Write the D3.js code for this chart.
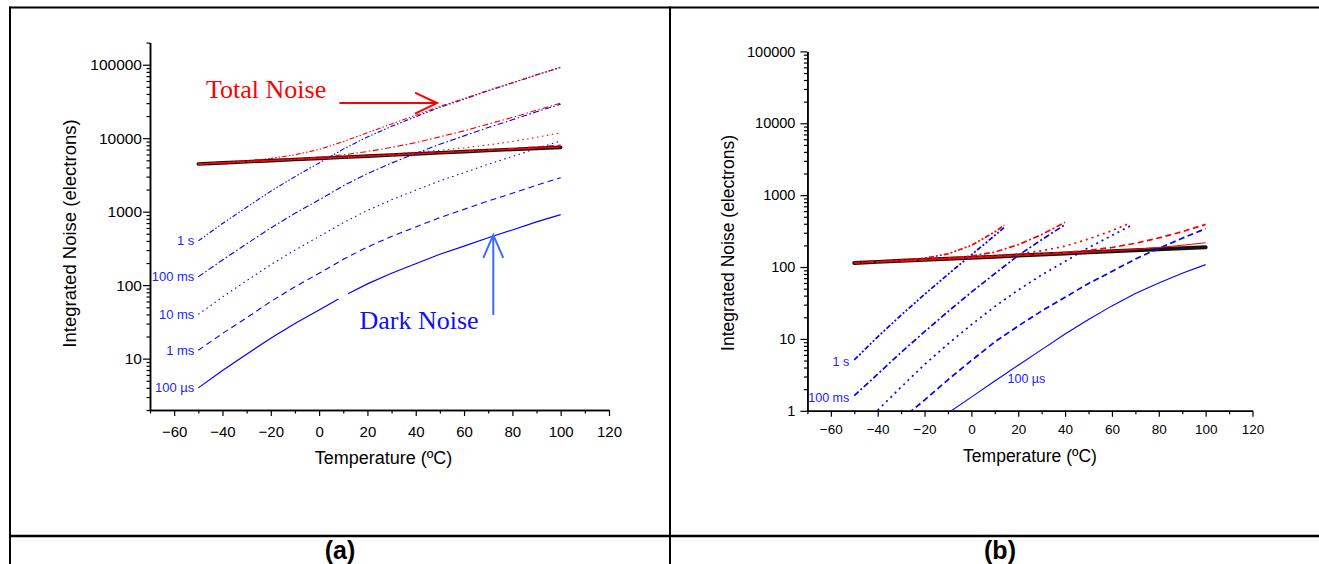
<!DOCTYPE html>
<html><head><meta charset="utf-8">
<script src="https://cdn.jsdelivr.net/npm/d3@7"></script>
<style>body{margin:0;background:#fff} svg{display:block}</style>
</head><body><svg id="c" width="1319" height="564"></svg>
<script>
// ---------------- DATA ----------------
const xMajor = [-60, -40, -20, 0, 20, 40, 60, 80, 100, 120];
const xMinor = [-70, -50, -30, -10, 10, 30, 50, 70, 90, 110];
const yMajorA = [10, 100, 1000, 10000, 100000];
const yMajorB = [1, 10, 100, 1000, 10000, 100000];
const seriesNames = ["1 s", "100 ms", "10 ms", "1 ms", "100 µs"];

// Panel (a): temperature grid (ºC)
const tempsA = [-50, -40, -30, -20, -10, 0, 10, 20, 30, 40, 50, 60, 70, 80, 90, 100];
const aRead = [4450, 4610, 4780, 4950, 5130, 5310, 5500, 5700, 5900, 6110, 6330, 6560, 6790, 7030, 7280, 7500];
const aDark1s   = [400, 690, 1150, 1900, 3000, 4600, 7100, 10400, 14500, 19600, 26300, 34000, 44200, 56400, 72500, 92000];
const aDark100ms = [130, 220, 365, 600, 950, 1450, 2250, 3300, 4600, 6200, 8300, 10750, 14000, 17800, 22900, 29000];
const aDark10ms = [40, 69, 115, 190, 300, 460, 710, 1040, 1450, 1960, 2630, 3400, 4420, 5640, 7250, 9200];
const aDark1ms  = [13, 22, 36, 60, 95, 145, 225, 330, 460, 620, 830, 1075, 1400, 1780, 2290, 2900];
// 100 µs dark curve has a small break near 10 ºC
const tempsA100us = [-50, -40, -30, -20, -10, 0, 8, 10, 12, 20, 30, 40, 50, 60, 70, 80, 90, 100];
const aDark100us = [4.0, 6.9, 11.5, 19, 30, 46, 65, null, 76.5, 104, 145, 196, 263, 340, 442, 564, 725, 912];
const aTot1s    = [4468, 4661, 4916, 5302, 5943, 7026, 8981, 11860, 15654, 20530, 27051, 34627, 44718, 56836, 72864, 92305];
const aTot100ms = [4452, 4615, 4794, 4986, 5217, 5505, 5942, 6586, 7481, 8705, 10438, 12593, 15560, 19138, 24030, 29954];
const aTot10ms  = [4450, 4611, 4781, 4954, 5139, 5330, 5546, 5794, 6075, 6416, 6855, 7389, 8102, 9013, 10274, 11870];
const aTot1ms   = [4450, 4610, 4780, 4950, 5131, 5312, 5505, 5710, 5918, 6141, 6384, 6647, 6933, 7252, 7632, 8041];
const aTot100us = [4450, 4610, 4780, 4950, 5130, 5310, 5500, 5701, 5902, 6113, 6335, 6569, 6804, 7053, 7316, 7555];

// Panel (b)
const tempsB = [-50, -40, -30, -20, -10, 0, 10, 20, 30, 40, 50, 60, 70, 80, 90, 100];
const bRead = [114, 118, 122, 126, 130.5, 135, 139.5, 144.5, 149.5, 154.5, 160, 165.5, 171, 177, 183, 189];
const bT1s = [-50, -40, -30, -20, -10, 0, 10, 14];
const bDark1s = [5.1, 10.7, 21.4, 41.7, 79, 148, 275, 355];
const bTot1s = [114.1, 118.5, 123.9, 132.7, 152.5, 200.3, 308.4, 382.2];
const bT100ms = [-50, -40, -30, -20, -10, 0, 10, 20, 30, 40];
const bDark100ms = [1.62, 3.24, 6.5, 12.6, 24, 44.7, 81, 145, 240, 389];
const bTot100ms = [114, 118, 122.2, 126.6, 132.7, 142.2, 161.3, 204.7, 282.8, 418.6];
const bT10ms = [-40, -30, -20, -10, 0, 10, 20, 30, 40, 50, 60, 68];
const bDark10ms = [1.02, 2.14, 4.4, 8.5, 15.8, 28.2, 47.9, 77.6, 120, 186, 275, 376];
const bTot10ms = [118, 122, 126.1, 130.8, 135.9, 142.3, 152.2, 168.4, 195.6, 245.3, 321, 412.6];
const bT1ms = [-30, -20, -10, 0, 10, 20, 30, 40, 50, 60, 70, 80, 90, 100];
const bDark1ms = [0.76, 1.41, 2.7, 5.0, 9.1, 15.1, 24.5, 38, 59, 87, 129, 182, 251, 343];
const bTot1ms = [122, 126, 130.5, 135.1, 139.8, 145.3, 151.5, 159.1, 170.5, 187, 214.2, 253.9, 310.6, 391.6];
const bT100us = [-10, 0, 10, 20, 30, 40, 50, 60, 70, 80, 90, 100];
const bDark100us = [0.93, 1.55, 2.6, 4.3, 7.1, 11.7, 18.6, 28.8, 42.7, 60, 82, 108];
const bTot100us = [130.5, 135, 139.5, 144.6, 149.7, 154.9, 161.1, 168, 176.3, 186.9, 200.5, 217.7];

// ---------------- STYLE / LAYOUT ----------------
const BLUE = "#0000ff", RED = "#ff0000", LBLUE = "#2222ff";
const SANS = "'Liberation Sans', Arial, sans-serif";
const SERIF = "'Liberation Serif', 'Times New Roman', serif";
const dashA = ["5,2,1.5,2,1.5,2", "6,2.5,1.5,2.5", "1.5,3.5", "6,4", null];
const dashB = ["5,2,2,2,2,2", "6,2.5,2,2.5", "2,4", "6,3.5", null];

const svg = d3.select("#c");
const zip = (t, v) => t.map((d, i) => [d, v[i]]);

// frame
const frame = svg.append("g").attr("stroke", "#000").attr("fill", "none");
frame.append("line").attr("x1", 9).attr("x2", 1319).attr("y1", 7.5).attr("y2", 7.5).attr("stroke-width", 2);
frame.append("line").attr("x1", 10).attr("x2", 10).attr("y1", 6.5).attr("y2", 564).attr("stroke-width", 2);
frame.append("line").attr("x1", 670).attr("x2", 670).attr("y1", 6.5).attr("y2", 564).attr("stroke-width", 2);
frame.append("line").attr("x1", 9).attr("x2", 1319).attr("y1", 536).attr("y2", 536).attr("stroke-width", 2.5);

svg.append("text").attr("x", 340).attr("y", 559).attr("text-anchor", "middle")
  .attr("font-family", SANS).attr("font-weight", "bold").attr("font-size", 25).text("(a)");
svg.append("text").attr("x", 1000).attr("y", 559).attr("text-anchor", "middle")
  .attr("font-family", SANS).attr("font-weight", "bold").attr("font-size", 25).text("(b)");

function panel(cfg) {
  const { x, y, id, yMajor, tickFont, ylab, xlab } = cfg;
  const g = svg.append("g");
  const [x0, x1] = x.range();
  const [yb, yt] = y.range();
  g.append("clipPath").attr("id", id).append("rect")
    .attr("x", x0).attr("y", yt).attr("width", x1 - x0).attr("height", yb - yt);

  // x axis
  const gx = g.append("g").attr("transform", `translate(0,${yb})`);
  gx.call(d3.axisBottom(x).tickValues(xMinor).tickSize(3.5).tickSizeOuter(0).tickFormat(""));
  const gx2 = g.append("g").attr("transform", `translate(0,${yb})`);
  gx2.call(d3.axisBottom(x).tickValues(xMajor).tickSize(6).tickSizeOuter(0));
  gx2.selectAll("text").attr("y", cfg.xTickBase).attr("dy", null)
    .attr("font-family", SANS).attr("font-size", tickFont.x).attr("fill", "#000");
  // y axis
  const minor = y.ticks().filter(v => !yMajor.includes(v));
  const gy = g.append("g").attr("transform", `translate(${x0},0)`);
  gy.call(d3.axisLeft(y).tickValues(minor).tickSize(3.5).tickSizeOuter(0).tickFormat(""));
  const gy2 = g.append("g").attr("transform", `translate(${x0},0)`);
  gy2.call(d3.axisLeft(y).tickValues(yMajor).tickSize(7).tickSizeOuter(0).tickFormat(d3.format("d")).tickPadding(cfg.yPad));
  gy2.selectAll("text").attr("font-family", SANS).attr("font-size", tickFont.y).attr("fill", "#000");
  g.selectAll(".domain").attr("stroke-width", 1.5);
  g.selectAll(".tick line").attr("stroke-width", 1.2);

  // titles
  g.append("text").attr("transform", `translate(${ylab[0]},${ylab[1]}) rotate(-90)`)
    .attr("text-anchor", "middle").attr("font-family", SANS).attr("font-size", ylab[2])
    .text("Integrated Noise (electrons)");
  g.append("text").attr("x", xlab[0]).attr("y", xlab[1]).attr("text-anchor", "middle")
    .attr("font-family", SANS).attr("font-size", xlab[2]).text("Temperature (ºC)");

  const plot = g.append("g").attr("clip-path", `url(#${id})`);
  const ln = d3.line().defined(d => d[1] != null).x(d => x(d[0])).y(d => y(d[1]));
  // read noise (thick black)
  plot.append("path").datum(cfg.read).attr("d", ln).attr("fill", "none")
    .attr("stroke", "#000").attr("stroke-width", cfg.readW).attr("stroke-linecap", "round").attr("opacity", 0.92);
  cfg.series.forEach((s, i) => {
    plot.append("path").datum(s.dark).attr("d", ln).attr("fill", "none")
      .attr("stroke", BLUE).attr("stroke-width", s.w).attr("stroke-dasharray", s.dash);
  });
  cfg.series.forEach((s, i) => {
    plot.append("path").datum(s.total).attr("d", ln).attr("fill", "none")
      .attr("stroke", RED).attr("stroke-width", s.w).attr("stroke-dasharray", s.dash);
  });
  return g;
}

// ---------------- PANEL A ----------------
const xA = d3.scaleLinear([-70, 120], [150, 609]);
const yA = d3.scaleLog([2, 200000], [410, 42.6]);
const tA = [tempsA, tempsA, tempsA, tempsA, tempsA100us];
const darkA = [aDark1s, aDark100ms, aDark10ms, aDark1ms, aDark100us];
const totA = [aTot1s, aTot100ms, aTot10ms, aTot1ms, aTot100us];
const gA = panel({
  x: xA, y: yA, id: "clipA", yMajor: yMajorA, tickFont: { x: 15, y: 15.5 }, xTickBase: 26.7, yPad: 1,
  ylab: [75.5, 233.5, 18.5], xlab: [383.5, 464, 18],
  read: zip(tempsA, aRead), readW: 3.6,
  series: seriesNames.map((n, i) => ({ dark: zip(tA[i], darkA[i]), total: zip(tempsA, totA[i]), dash: dashA[i], w: i === 4 ? 1.2 : 1.1 }))
});
// series labels
seriesNames.forEach((n, i) => {
  gA.append("text").attr("x", xA(tA[i][0]) - 4).attr("y", yA(darkA[i][0])).attr("dy", "0.33em")
    .attr("text-anchor", "end").attr("font-family", SANS).attr("font-size", 13).attr("fill", LBLUE).text(n);
});
// annotations (data coordinates)
const totalNoteA = { T: -46.8, v: 34900, arrowFrom: 8.4, arrowTo: 48.8, arrowV: 30100 };
const darkNoteA = { T: 16.7, v: 25.1, arrowT: 72.1, arrowFromV: 39.3, arrowToV: 482 };
gA.append("text").attr("x", xA(totalNoteA.T)).attr("y", yA(totalNoteA.v))
  .attr("font-family", SERIF).attr("font-size", 26).attr("fill", RED).text("Total Noise");
{
  const ax0 = xA(totalNoteA.arrowFrom), ax1 = xA(totalNoteA.arrowTo), ay = yA(totalNoteA.arrowV);
  gA.append("path").attr("d", `M${ax0},${ay}H${ax1}M${ax1 - 22},${ay - 10.5}L${ax1},${ay}L${ax1 - 22},${ay + 10.5}`)
    .attr("fill", "none").attr("stroke", RED).attr("stroke-width", 2);
}
gA.append("text").attr("x", xA(darkNoteA.T)).attr("y", yA(darkNoteA.v))
  .attr("font-family", SERIF).attr("font-size", 26).attr("fill", "#1010f0").text("Dark Noise");
{
  const ax = xA(darkNoteA.arrowT), ay0 = yA(darkNoteA.arrowFromV), ay1 = yA(darkNoteA.arrowToV);
  gA.append("path").attr("d", `M${ax},${ay0}V${ay1}M${ax - 10},${ay1 + 23}L${ax},${ay1}L${ax + 10},${ay1 + 23}`)
    .attr("fill", "none").attr("stroke", "#3a6cff").attr("stroke-width", 2);
}

// ---------------- PANEL B ----------------
const xB = d3.scaleLinear([-70, 120], [807.4, 1252.5]);
const yB = d3.scaleLog([1, 100000], [410.8, 51.4]);
const tB = [bT1s, bT100ms, bT10ms, bT1ms, bT100us];
const darkB = [bDark1s, bDark100ms, bDark10ms, bDark1ms, bDark100us];
const totB = [bTot1s, bTot100ms, bTot10ms, bTot1ms, bTot100us];
const gB = panel({
  x: xB, y: yB, id: "clipB", yMajor: yMajorB, tickFont: { x: 13.5, y: 14.5 }, xTickBase: 23.5, yPad: 5,
  ylab: [734, 243, 17.5], xlab: [1030, 462, 17.5],
  read: zip(tempsB, bRead), readW: 4,
  series: seriesNames.map((n, i) => ({ dark: zip(tB[i], darkB[i]), total: zip(tB[i], totB[i]), dash: dashB[i], w: i === 4 ? 1.1 : 1.7 }))
});
[0, 1].forEach(i => {
  gB.append("text").attr("x", xB(tB[i][0]) - 5).attr("y", yB(darkB[i][0]) + 2).attr("dy", "0.33em")
    .attr("text-anchor", "end").attr("font-family", SANS).attr("font-size", 12.5).attr("fill", LBLUE).text(seriesNames[i]);
});
const label100usB = { T: 23.5, v: 2.8 };
gB.append("text").attr("x", xB(label100usB.T)).attr("y", yB(label100usB.v)).attr("dy", "0.33em")
  .attr("text-anchor", "middle").attr("font-family", SANS).attr("font-size", 12.5).attr("fill", LBLUE).text(seriesNames[4]);
</script></body></html>
